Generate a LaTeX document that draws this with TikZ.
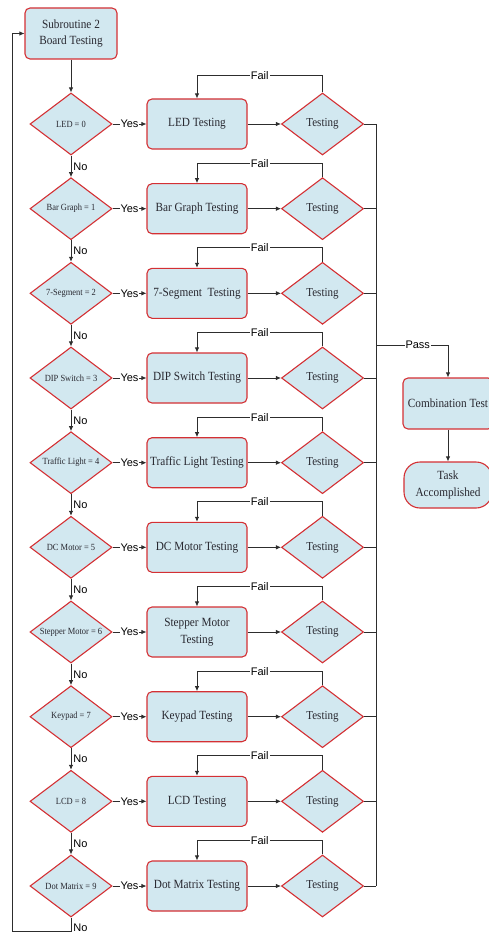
\documentclass[tikz,border=0pt]{standalone}
\usepackage{fontspec}
\setmainfont[FakeStretch=0.9]{Liberation Serif}
\newfontfamily\labfont{Liberation Sans}
\usetikzlibrary{shapes.geometric,arrows.meta}
\definecolor{boxfill}{RGB}{210,232,240}
\definecolor{boxdraw}{RGB}{212,48,52}
\definecolor{linec}{RGB}{45,45,45}
\definecolor{txt}{RGB}{40,40,48}
\begin{document}
\begin{tikzpicture}[x=1pt,y=-1pt,
 procbox/.style={draw=boxdraw, fill=boxfill, line width=1.1pt, rounded corners=5pt, minimum width=100pt, minimum height=50pt, inner sep=1pt, align=center, font=\fontsize{12.5}{16.5}\selectfont, text=txt},
 decision/.style={diamond, draw=boxdraw, fill=boxfill, line width=1.1pt, aspect=1.32, minimum width=82pt, minimum height=62pt, inner sep=0pt, text=txt},
 flow/.style={draw=linec, line width=0.8pt},
 arr/.style={flow, -{Latex[length=5pt,width=4.5pt]}},
 lab/.style={font=\labfont\fontsize{11}{12}\selectfont, text=black, inner sep=1pt},
]
\useasboundingbox (0,0) rectangle (489,933);

\node[procbox, minimum width=92pt, minimum height=51pt] (start) at (71,33.5) {Subroutine 2\\Board Testing};

\foreach \i/\y/\dl/\bl/\f in {
 1/124/{LED = 0}/{LED Testing}/48,
 2/208.7/{Bar Graph = 1}/{Bar Graph Testing}/45,
 3/293.3/{7-Segment = 2}/{7-Segment~~Testing}/45,
 4/378/{DIP Switch = 3}/{DIP Switch Testing}/45,
 5/462.7/{Traffic Light = 4}/{Traffic Light Testing}/45,
 6/547.3/{DC Motor = 5}/{DC Motor Testing}/45,
 7/632/{Stepper Motor = 6}/{Stepper Motor\\Testing}/45,
 8/716.7/{Keypad = 7}/{Keypad Testing}/45,
 9/801.3/{LCD = 8}/{LCD Testing}/45,
 10/886/{Dot Matrix = 9}/{Dot Matrix Testing}/45} {
 \node[decision, font=\fontsize{9.4}{10}\selectfont] (d\i) at (71,\y) {\dl};
 \node[procbox] (b\i) at (197,\y) {\bl};
 \node[decision, font=\fontsize{12.2}{13}\selectfont] (t\i) at (322.5,\y) {Testing};
 \draw[arr] (d\i.east) -- node[lab, fill=white]{Yes} (b\i.west);
 \draw[arr] (b\i.east) -- (t\i.west);
 \draw[arr] (t\i.north) -- ++(0,{-(\f-31)}) -| node[lab, fill=white, pos=0.25]{Fail} (b\i.north);
 \draw[flow] (t\i.east) -- (376,\y);
}

\draw[arr] (start.south) -- (d1.north);
\foreach \i/\j in {1/2,2/3,3/4,4/5,5/6,6/7,7/8,8/9,9/10} {
 \draw[arr] (d\i.south) -- node[lab, right, xshift=1pt]{No} (d\j.north);
}

\coordinate (loopb) at (71,931.5);
\coordinate (loopl) at (12,931.5);
\draw[arr] (d10.south) -- node[lab, right, xshift=1pt, pos=0.7]{No} (loopb) -- (loopl) |- (start.west);

\coordinate (rtop) at (376,124);
\coordinate (rbot) at (376,886);
\draw[flow] (rtop) -- (rbot);

\node[procbox, minimum width=90pt, minimum height=51pt] (comb) at (448,403.5) {Combination Test};
\node[procbox, rounded corners=16pt, minimum width=88pt, minimum height=46pt] (task) at (448,485) {Task\\Accomplished};

\coordinate (pass) at (376,345);
\draw[arr] (pass) -| node[lab, fill=white, pos=0.29]{Pass} (comb.north);
\draw[arr] (comb.south) -- (task.north);
\end{tikzpicture}
\end{document}
